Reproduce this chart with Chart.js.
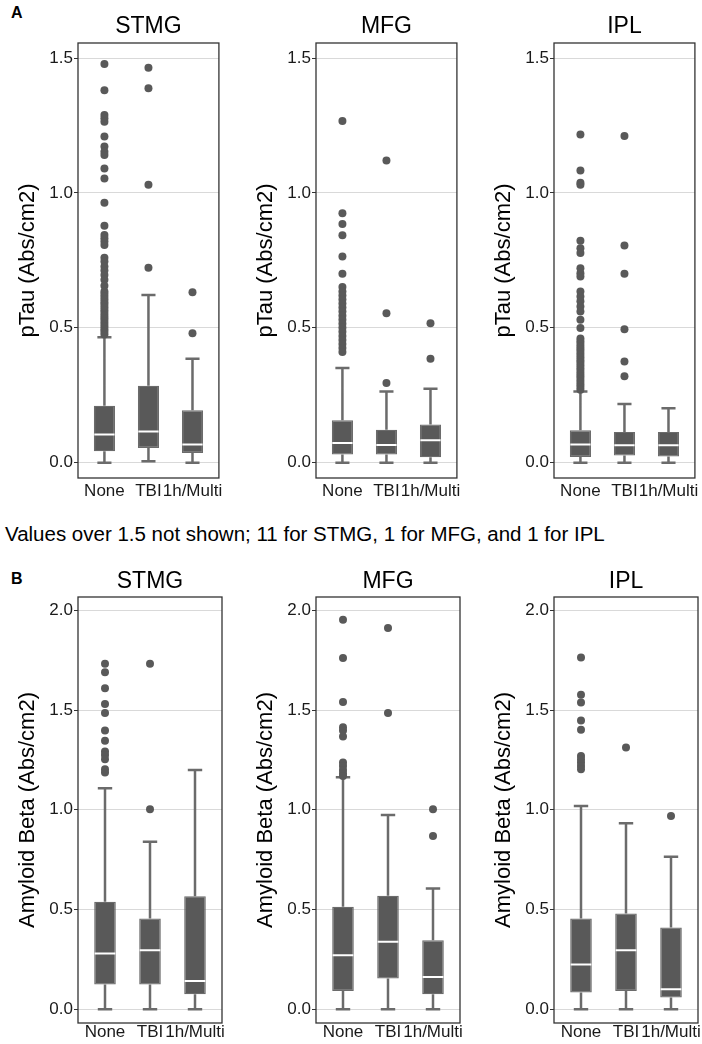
<!DOCTYPE html>
<html>
<head>
<meta charset="utf-8">
<script src="https://cdn.jsdelivr.net/npm/chart.js@4.4.1/dist/chart.umd.min.js"></script>
<style>
  body { margin: 0; background: #fff; font-family: "Liberation Sans", Arial, sans-serif; }
  #page { position: relative; width: 702px; height: 1044px; overflow: hidden; background: #fff; }
  canvas { position: absolute; }
  .tag { position: absolute; font-weight: bold; font-size: 16px; color: #000; }
  #note { position: absolute; left: 5px; top: 522px; font-size: 20.5px; white-space: nowrap; color: #000; }
</style>
</head>
<body>
<div id="page">
  <div class="tag" style="left:11px;top:4px">A</div>
  <div class="tag" style="left:11px;top:570px">B</div>
  <div id="note">Values over 1.5 not shown; 11 for STMG, 1 for MFG, and 1 for IPL</div>
</div>
<script>
const groups = ['None', 'TBI', '1h/Multi'];
const regions = ['STMG', 'MFG', 'IPL'];
const pTauTicks = [0, 0.5, 1.0, 1.5];
const amyloidTicks = [0, 0.5, 1.0, 1.5, 2.0];

// box stats per group: [lower whisker, Q1, median, Q3, upper whisker]
const pTauSTMG = [[0, 0.042, 0.104, 0.211, 0.465], [0.005, 0.054, 0.115, 0.285, 0.622], [0, 0.036, 0.067, 0.194, 0.385]];
const pTauMFG = [[0, 0.030, 0.073, 0.157, 0.351], [0, 0.030, 0.065, 0.122, 0.264], [0, 0.020, 0.083, 0.141, 0.274]];
const pTauIPL = [[0, 0.021, 0.067, 0.120, 0.264], [0, 0.026, 0.064, 0.114, 0.217], [0, 0.023, 0.064, 0.114, 0.202]];
const amyloidSTMG = [[0, 0.124, 0.279, 0.539, 1.108], [0, 0.124, 0.296, 0.455, 0.840], [0, 0.075, 0.142, 0.567, 1.200]];
const amyloidMFG = [[0, 0.092, 0.271, 0.514, 1.163], [0, 0.154, 0.338, 0.569, 0.974], [0, 0.075, 0.162, 0.346, 0.606]];
const amyloidIPL = [[0, 0.084, 0.224, 0.455, 1.019], [0, 0.092, 0.296, 0.480, 0.932], [0, 0.059, 0.100, 0.410, 0.765]];

// outliers per group
const pTauSTMGOut = [
  [1.478, 1.381, 1.289, 1.277, 1.264, 1.209, 1.172, 1.153, 1.141, 1.091, 1.054, 0.964, 0.878, 0.844, 0.832, 0.820, 0.807,
   0.760, 0.746, 0.727, 0.712, 0.696, 0.678, 0.656, 0.635, 0.625, 0.615, 0.605, 0.595, 0.585, 0.575, 0.565, 0.555, 0.545,
   0.535, 0.525, 0.515, 0.505, 0.495, 0.485, 0.475],
  [1.464, 1.388, 1.030, 0.723],
  [0.632, 0.480]
];
const pTauMFGOut = [
  [1.267, 0.925, 0.885, 0.843, 0.764, 0.700, 0.651, 0.635, 0.620, 0.605, 0.590, 0.575, 0.560, 0.545, 0.530, 0.515, 0.500,
   0.485, 0.470, 0.455, 0.440, 0.425, 0.410],
  [1.120, 0.554, 0.295],
  [0.517, 0.385]
];
const pTauIPLOut = [
  [1.217, 1.083, 1.038, 1.030, 0.823, 0.795, 0.777, 0.721, 0.702, 0.690, 0.635, 0.616, 0.598, 0.579, 0.560, 0.530, 0.499,
   0.46, 0.45, 0.44, 0.43, 0.42, 0.41, 0.40, 0.39, 0.38, 0.37, 0.36, 0.35, 0.34, 0.33, 0.32, 0.31, 0.30, 0.29, 0.28, 0.27],
  [1.211, 0.805, 0.700, 0.495, 0.375, 0.320],
  []
];
const amyloidSTMGOut = [
  [1.732, 1.690, 1.610, 1.531, 1.485, 1.397, 1.346, 1.292, 1.275, 1.254, 1.203, 1.187],
  [1.732, 1.003],
  []
];
const amyloidMFGOut = [
  [1.953, 1.761, 1.540, 1.414, 1.397, 1.367, 1.237, 1.220, 1.200, 1.183, 1.170],
  [1.911, 1.485],
  [1.003, 0.869]
];
const amyloidIPLOut = [
  [1.764, 1.577, 1.538, 1.448, 1.401, 1.270, 1.254, 1.237, 1.220, 1.203],
  [1.312],
  [0.969]
];

const FONT = '"Liberation Sans", Arial, sans-serif';
Chart.defaults.font.family = FONT;
Chart.defaults.color = '#000';

const BOX = '#595959';
const WHISKER = '#6b6b6b';

const rows = [
  { top: 0, height: 505, padTop: 43, axisH: 27, labelPad: 3, titleGap: 10, yMin: -0.057, yMax: 1.556,
    ticks: pTauTicks, yTitle: 'pTau (Abs/cm2)', stats: [pTauSTMG, pTauMFG, pTauIPL], out: [pTauSTMGOut, pTauMFGOut, pTauIPLOut] },
  { top: 555, height: 489, padTop: 42, axisH: 21, labelPad: -1, titleGap: 9, yMin: -0.069, yMax: 2.067,
    ticks: amyloidTicks, yTitle: 'Amyloid Beta (Abs/cm2)', stats: [amyloidSTMG, amyloidMFG, amyloidIPL], out: [amyloidSTMGOut, amyloidMFGOut, amyloidIPLOut] }
];
const colLefts = [0, 238, 476];
const canvasW = 226;

// frame around the plot area plus the region title above it
const panelFrame = {
  id: 'panelFrame',
  afterDraw(chart, args, opts) {
    const { ctx, chartArea: a } = chart;
    ctx.save();
    ctx.strokeStyle = '#333';
    ctx.lineWidth = 1.3;
    ctx.strokeRect(a.left, a.top, a.right - a.left, a.bottom - a.top);
    ctx.fillStyle = '#000';
    ctx.font = '23px ' + FONT;
    ctx.textAlign = 'center';
    ctx.textBaseline = 'alphabetic';
    ctx.fillText(opts.text, (a.left + a.right) / 2, a.top - opts.gap);
    ctx.restore();
  }
};

function buildDatasets(stats, outliers) {
  const capHalf = 0.16, medHalf = 0.23;
  const whiskers = [], medians = [], boxes = [], points = [];
  stats.forEach((s, i) => {
    const x = i + 1;
    const [lo, q1, med, q3, hi] = s;
    whiskers.push(
      { x, y: q3 }, { x, y: hi }, { x, y: null },
      { x: x - capHalf, y: hi }, { x: x + capHalf, y: hi }, { x, y: null },
      { x, y: q1 }, { x, y: lo }, { x, y: null },
      { x: x - capHalf, y: lo }, { x: x + capHalf, y: lo }, { x, y: null }
    );
    medians.push({ x: x - medHalf, y: med }, { x: x + medHalf, y: med }, { x, y: null });
    boxes.push({ x, y: [q1, q3] });
    outliers[i].forEach(v => points.push({ x, y: v }));
  });

  return [
    {
      type: 'scatter', data: whiskers, showLine: true, spanGaps: false,
      borderColor: WHISKER, borderWidth: 2.5, pointRadius: 0, order: 3
    },
    {
      type: 'bar', data: boxes, backgroundColor: BOX, borderColor: WHISKER, borderWidth: 1.2,
      borderSkipped: false, barPercentage: 0.48, categoryPercentage: 1, order: 2
    },
    {
      type: 'scatter', data: medians, showLine: true, spanGaps: false,
      borderColor: '#fff', borderWidth: 2, pointRadius: 0, order: 1
    },
    {
      type: 'scatter', data: points, pointRadius: 4, pointBackgroundColor: BOX,
      pointBorderWidth: 0, order: 0
    }
  ];
}

const page = document.getElementById('page');

rows.forEach((row, r) => {
  regions.forEach((region, c) => {
    const canvas = document.createElement('canvas');
    canvas.width = canvasW;
    canvas.height = row.height;
    canvas.style.left = colLefts[c] + 'px';
    canvas.style.top = row.top + 'px';
    canvas.style.width = canvasW + 'px';
    canvas.style.height = row.height + 'px';
    page.appendChild(canvas);

    new Chart(canvas, {
      type: 'bar',
      data: { datasets: buildDatasets(row.stats[c], row.out[c]) },
      plugins: [panelFrame],
      options: {
        responsive: false,
        animation: false,
        events: [],
        layout: { padding: { top: row.padTop, left: 0, right: 3, bottom: 0 } },
        plugins: {
          legend: { display: false },
          tooltip: { enabled: false },
          title: { display: false },
          panelFrame: { text: region, gap: row.titleGap }
        },
        scales: {
          x: {
            type: 'linear',
            min: 0.4,
            max: 3.6,
            offset: false,
            grid: { display: false, drawTicks: false },
            border: { display: false },
            afterBuildTicks: (scale) => { scale.ticks = groups.map((g, i) => ({ value: i + 1 })); },
            afterFit: (scale) => { scale.height = row.axisH; },
            ticks: {
              autoSkip: false,
              maxRotation: 0,
              minRotation: 0,
              padding: row.labelPad,
              color: '#1a1a1a',
              font: { size: 17 },
              callback: (v) => groups[Math.round(v) - 1]
            }
          },
          y: {
            type: 'linear',
            min: row.yMin,
            max: row.yMax,
            afterBuildTicks: (scale) => { scale.ticks = row.ticks.map(v => ({ value: v })); },
            afterFit: (scale) => { scale.width = 78; },
            grid: { color: '#d9d9d9', lineWidth: 1, tickColor: '#333', tickLength: 4, drawTicks: true },
            border: { display: false },
            ticks: {
              autoSkip: false,
              padding: 1,
              color: '#1a1a1a',
              font: { size: 17 },
              callback: (v) => Number(v).toFixed(1)
            },
            title: {
              display: true,
              text: row.yTitle,
              color: '#000',
              font: { size: 22 },
              padding: { top: 15, bottom: 0 }
            }
          }
        }
      }
    });
  });
});
</script>
</body>
</html>
